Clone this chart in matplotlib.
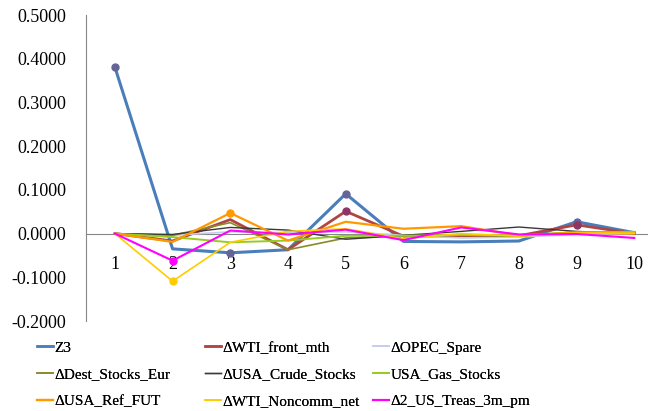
import matplotlib
matplotlib.use("Agg")
import matplotlib.pyplot as plt
from matplotlib.lines import Line2D

plt.rcParams['font.family'] = ['Liberation Serif', 'DejaVu Serif']

steps = [1, 2, 3, 4, 5, 6, 7, 8, 9, 10]
y_ticks = [-0.2, -0.1, 0.0, 0.1, 0.2, 0.3, 0.4, 0.5]

z3 = [0.381, -0.035, -0.044, -0.037, 0.091, -0.018, -0.019, -0.017, 0.027, 0.002]
wti_front_mth = [0.0, -0.017, 0.032, -0.037, 0.051, -0.006, -0.005, -0.005, 0.020, 0.0]
opec_spare = [0.0, -0.004, 0.004, 0.002, 0.004, -0.004, -0.010, -0.008, -0.002, 0.0]
dest_stocks_eur = [0.0, -0.004, 0.025, -0.037, -0.010, -0.005, -0.004, -0.006, 0.004, 0.002]
usa_crude_stocks = [0.0, -0.002, 0.014, 0.008, -0.013, -0.004, 0.005, 0.015, 0.005, 0.0]
usa_gas_stocks = [0.0, -0.008, -0.020, -0.016, -0.005, -0.005, -0.003, -0.004, 0.003, 0.004]
usa_ref_fut = [0.0, -0.019, 0.047, -0.016, 0.027, 0.011, 0.017, -0.004, 0.002, 0.0]
wti_noncomm_net = [0.0, -0.109, -0.020, 0.005, 0.011, -0.012, 0.0, -0.006, 0.001, 0.001]
us_treas_3m = [0.0, -0.062, 0.007, -0.002, 0.009, -0.015, 0.014, -0.002, -0.001, -0.010]

series = [
    ("Z3", z3, "#4A7EBB", 2.2, "#646499", [0, 2, 4, 8]),
    ("\u0394WTI_front_mth", wti_front_mth, "#B04643", 2.0, "#8E3565", [4, 8]),
    ("\u0394OPEC_Spare", opec_spare, "#C4CCEC", 1.2, None, []),
    ("\u0394Dest_Stocks_Eur", dest_stocks_eur, "#8A8A26", 1.2, None, []),
    ("\u0394USA_Crude_Stocks", usa_crude_stocks, "#3A3A3A", 1.0, None, []),
    ("USA_Gas_Stocks", usa_gas_stocks, "#99CC22", 1.4, None, []),
    ("\u0394USA_Ref_FUT", usa_ref_fut, "#FF9900", 1.6, "#FF9900", [2]),
    ("\u0394WTI_Noncomm_net", wti_noncomm_net, "#FFCC00", 1.2, "#FFCC00", [1]),
    ("\u03942_US_Treas_3m_pm", us_treas_3m, "#FF00FF", 1.5, "#FF00FF", [1]),
]

fig = plt.figure(figsize=(6.48, 4.11), dpi=100)
ax = fig.add_axes([86/648, 1-321/411, (647-86)/648, (321-15)/411])

handles = []
for name, vals, col, lw, mcol, marks in series:
    ax.plot(steps, vals, color=col, lw=lw, label=name, zorder=3)
    if marks:
        ax.plot([steps[i] for i in marks], [vals[i] for i in marks], ls='none',
                marker='o', ms=5.0, color=mcol, mec=mcol, zorder=4)
    handles.append(Line2D([0], [0], color=col, lw=min(lw, 1.8)))

ax.set_xlim(0.5, 10.22)
ax.set_ylim(-0.2, 0.5)
ax.set_yticks(y_ticks)
ax.set_yticklabels([f"{v:.4f}" for v in y_ticks])
ax.set_xticks(steps)
ax.set_xticklabels([str(s) for s in steps])

for s in ['top', 'right']:
    ax.spines[s].set_visible(False)
ax.spines['left'].set_color('#868686')
ax.spines['bottom'].set_color('#868686')
ax.spines['bottom'].set_position(('data', 0))
ax.tick_params(axis='y', length=0, pad=14, labelsize=13)
ax.tick_params(axis='x', length=0, pad=16, labelsize=13)

col_x = [37, 205, 373]
for c in range(3):
    idx = [c, c + 3, c + 6]
    leg = fig.legend([handles[i] for i in idx], [series[i][0] for i in idx],
                     loc='upper left', bbox_to_anchor=(col_x[c]/648, 1-341/411),
                     frameon=False, fontsize=11, handlelength=1.05,
                     handletextpad=0.1, labelspacing=0.85, borderpad=0,
                     borderaxespad=0)
    fig.add_artist(leg)

fig.savefig("out.png", dpi=100)
